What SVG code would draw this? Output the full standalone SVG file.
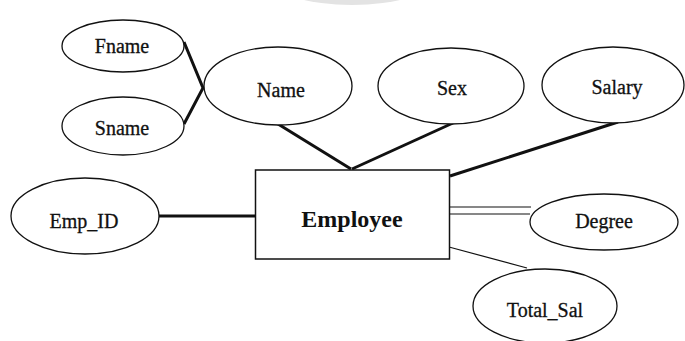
<svg xmlns="http://www.w3.org/2000/svg" width="685" height="341" viewBox="0 0 685 341">
<style>
.attr{fill:#fff;stroke:#111;stroke-width:1.3}
.ent{fill:#fff;stroke:#111;stroke-width:1.5}
.lbl{font-family:"Liberation Serif","Times New Roman",serif;font-size:20px;fill:#111;stroke:#111;stroke-width:0.3;text-anchor:middle}
.elbl{font-family:"Liberation Serif","Times New Roman",serif;font-size:24px;font-weight:bold;fill:#111;text-anchor:middle}
.thick{stroke:#111;stroke-width:3;fill:none}
.thin{stroke:#111;stroke-width:1.2;fill:none}
</style>
<rect width="685" height="341" fill="#fff"/>
<ellipse cx="352" cy="-20" rx="80" ry="25" fill="#e3e3e3"/>
<g id="connectors">
<polyline class="thick" points="184,42 203,88 184,124"/>
<line class="thick" x1="278" y1="124" x2="351" y2="169"/>
<line class="thick" x1="453" y1="123" x2="352" y2="169"/>
<line class="thick" x1="618" y1="122" x2="450" y2="176"/>
<line class="thick" x1="159" y1="216" x2="256" y2="216"/>
<line class="thin" x1="449" y1="207" x2="531" y2="207"/>
<line class="thin" x1="449" y1="214" x2="530" y2="214"/>
<line class="thin" x1="449" y1="247" x2="527" y2="268"/>
</g>
<g id="fname"><ellipse class="attr" cx="123" cy="46" rx="61" ry="26"/><text class="lbl" x="122" y="53">Fname</text></g>
<g id="sname"><ellipse class="attr" cx="123" cy="126" rx="61" ry="29"/><text class="lbl" x="122" y="135">Sname</text></g>
<g id="name"><ellipse class="attr" cx="278" cy="86" rx="74" ry="39"/><text class="lbl" x="281" y="97">Name</text></g>
<g id="sex"><ellipse class="attr" cx="451" cy="86" rx="73" ry="38"/><text class="lbl" x="452" y="95">Sex</text></g>
<g id="salary"><ellipse class="attr" cx="613" cy="85" rx="71" ry="38"/><text class="lbl" x="617" y="94">Salary</text></g>
<g id="employee"><rect class="ent" x="255.5" y="170" width="194" height="89"/><text class="elbl" x="352" y="227">Employee</text></g>
<g id="emp_id"><ellipse class="attr" cx="85" cy="216" rx="74" ry="38"/><text class="lbl" x="84" y="228">Emp_ID</text></g>
<g id="degree"><ellipse class="attr" cx="604" cy="222" rx="74" ry="28"/><text class="lbl" x="604" y="228">Degree</text></g>
<g id="total_sal"><ellipse class="attr" cx="545" cy="306" rx="72" ry="37"/><text class="lbl" x="545" y="317">Total_Sal</text></g>
</svg>
